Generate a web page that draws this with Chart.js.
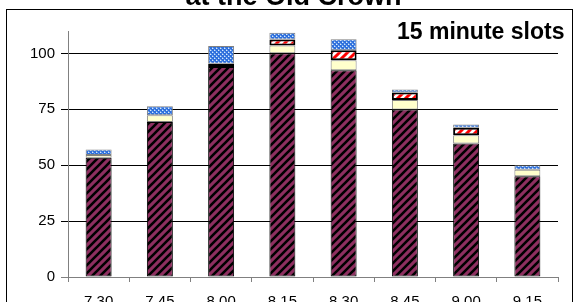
<!DOCTYPE html>
<html>
<head>
<meta charset="utf-8">
<script src="https://cdn.jsdelivr.net/npm/chart.js@4/dist/chart.umd.min.js"></script>
<style>
  html, body { margin: 0; padding: 0; background: #fff; overflow: hidden; width: 576px; height: 302px; }
  #wrap { position: absolute; left: 0; top: 0; width: 576px; height: 330px; }
</style>
</head>
<body>
<div id="wrap"><canvas id="c" width="576" height="330" style="width:576px;height:330px"></canvas></div>
<script>
// ---- data ----
const categories = ['7.30', '7.45', '8.00', '8.15', '8.30', '8.45', '9.00', '9.15'];
const mainValues   = [53.3, 69.3, 93.9, 100.1, 92.4, 74.9, 59.7, 45.0];
const yellowValues = [1.2, 3.0, 0, 3.4, 4.5, 4.2, 3.7, 3.0];
const redValues    = [0, 0, 1.5, 2.7, 4.5, 3.4, 3.3, 0];
const blueValues   = [2.5, 4.0, 7.9, 3.0, 4.9, 1.3, 1.5, 2.0];
const yTickValues  = [0, 25, 50, 75, 100];
const titleText = 'at the Old Crown';
const noteText = '15 minute slots';

// ---- patterns ----
function makeTile(s, draw) {
  const t = document.createElement('canvas');
  t.width = s; t.height = s;
  const g = t.getContext('2d');
  draw(g, s);
  return document.getElementById('c').getContext('2d').createPattern(t, 'repeat');
}
function diag(g, s, color, w) {
  g.strokeStyle = color; g.lineWidth = w; g.lineCap = 'square';
  g.beginPath();
  g.moveTo(-3, 3); g.lineTo(3, -3);
  g.moveTo(0, s); g.lineTo(s, 0);
  g.moveTo(s - 3, s + 3); g.lineTo(s + 3, s - 3);
  g.stroke();
}
const maroonHatch = makeTile(8, (g, s) => { g.fillStyle = '#8e2f60'; g.fillRect(0, 0, s, s); diag(g, s, '#000', 2.6); });
const redStripe = makeTile(8, (g, s) => { g.fillStyle = '#fff'; g.fillRect(0, 0, s, s); diag(g, s, '#ff0000', 3); });
const blueDots = makeTile(4, (g, s) => {
  g.fillStyle = '#2f6fdc'; g.fillRect(0, 0, s, s);
  g.fillStyle = '#6fa4ec'; g.fillRect(1, 0, 1, 1); g.fillRect(3, 2, 1, 1); g.fillRect(0, 3, 1, 1); g.fillRect(2, 1, 1, 1);
  g.fillStyle = '#d8e8fb'; g.fillRect(0, 0, 1, 1); g.fillRect(2, 2, 1, 1);
});

const FONT = "'Liberation Sans', Arial, sans-serif";

const decor = {
  id: 'decor',
  beforeDraw(chart) {
    const ctx = chart.ctx;
    ctx.save();
    ctx.fillStyle = '#fff';
    ctx.fillRect(0, 0, chart.width, chart.height);
    ctx.strokeStyle = '#000'; ctx.lineWidth = 1;
    ctx.strokeRect(6.5, 9.5, 566, 400);
    ctx.restore();
  },
  afterDraw(chart) {
    const ctx = chart.ctx;
    ctx.save();
    ctx.fillStyle = '#000';
    ctx.textBaseline = 'alphabetic';
    ctx.textAlign = 'center';
    ctx.font = "bold 27px " + FONT;
    ctx.fillText(titleText, 293.5, 4.5);
    ctx.textAlign = 'left';
    ctx.font = "bold 23px " + FONT;
    ctx.fillText(noteText, 397, 39);
    ctx.restore();
  }
};

const common = { barPercentage: 0.424, categoryPercentage: 1.0, borderSkipped: false };

new Chart(document.getElementById('c'), {
  type: 'bar',
  data: {
    labels: categories,
    datasets: [
      Object.assign({ label: 'a', data: mainValues, backgroundColor: maroonHatch, borderColor: '#000', borderWidth: 1 }, common),
      Object.assign({ label: 'b', data: yellowValues, backgroundColor: '#ffffcc', borderColor: '#808080', borderWidth: 1 }, common),
      Object.assign({ label: 'c', data: redValues, backgroundColor: redStripe, borderColor: '#000', borderWidth: 2 }, common),
      Object.assign({ label: 'd', data: blueValues, backgroundColor: blueDots, borderColor: '#808080', borderWidth: 1 }, common)
    ]
  },
  options: {
    responsive: false,
    animation: false,
    devicePixelRatio: 1,
    layout: { padding: { left: 0, right: 18, top: 31, bottom: 0 } },
    plugins: { legend: { display: false }, tooltip: { enabled: false }, title: { display: false } },
    scales: {
      x: {
        stacked: true,
        grid: { display: true, offset: true, drawOnChartArea: false, drawTicks: true, tickLength: 5, color: '#808080' },
        border: { display: true, color: '#808080', width: 1 },
        ticks: { color: '#000', font: { family: FONT, size: 15 }, padding: 11, maxRotation: 0 },
        afterFit(scale) { scale.height = 53; }
      },
      y: {
        stacked: true,
        min: 0, max: 110,
        afterBuildTicks(scale) { scale.ticks = yTickValues.map(v => ({ value: v })); },
        grid: {
          drawTicks: true, tickLength: 7,
          color: (c) => (c.tick && c.tick.value === 0) ? '#808080' : '#000'
        },
        border: { display: true, color: '#808080', width: 1 },
        ticks: { color: '#000', font: { family: FONT, size: 15 }, padding: 6 },
        afterFit(scale) { scale.width = 68; }
      }
    }
  },
  plugins: [decor]
});
</script>
</body>
</html>
